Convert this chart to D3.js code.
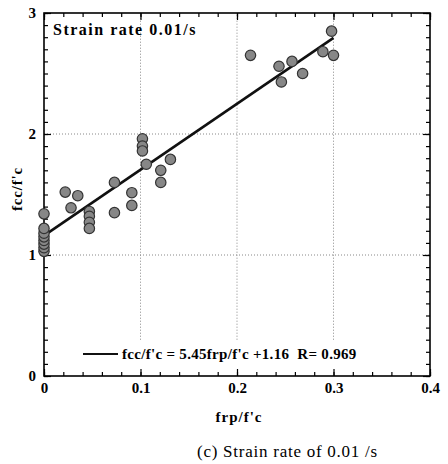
<!DOCTYPE html>
<html>
<head>
<meta charset="utf-8">
<script src="https://cdn.jsdelivr.net/npm/d3@7"></script>
<style>
  body { margin: 0; background: #fff; }
  svg { display: block; }
</style>
</head>
<body>
<div id="chart"></div>
<script>
// values
const frpRatio = [0, 0, 0, 0, 0, 0, 0, 0,
  0.022, 0.028, 0.035,
  0.047, 0.047, 0.047, 0.047,
  0.073, 0.073, 0.091, 0.091,
  0.102, 0.102, 0.102, 0.106,
  0.121, 0.121, 0.131,
  0.214, 0.2435, 0.246, 0.257, 0.268, 0.289, 0.298, 0.300];
const fccRatio = [1.03, 1.06, 1.09, 1.12, 1.15, 1.18, 1.22, 1.34,
  1.52, 1.39, 1.49,
  1.36, 1.32, 1.27, 1.22,
  1.60, 1.35, 1.515, 1.41,
  1.96, 1.90, 1.86, 1.75,
  1.70, 1.60, 1.79,
  2.65, 2.56, 2.43, 2.60, 2.50, 2.68, 2.85, 2.65];
const fitSlope = 5.45, fitIntercept = 1.16, fitR = 0.969;
const fitRange = [0, 0.3];
const xTicks = [0, 0.1, 0.2, 0.3, 0.4];
const yTicks = [0, 1, 2, 3];

const width = 448, height = 464;
const margin = {top: 13, right: 18, bottom: 88, left: 44};

const x = d3.scaleLinear([0, 0.4], [margin.left, width - margin.right]);
const y = d3.scaleLinear([0, 3], [height - margin.bottom, margin.top]);

const svg = d3.select("#chart").append("svg")
    .attr("width", width)
    .attr("height", height)
    .attr("font-family", "'Liberation Serif', serif");

// dotted grid at the inner major ticks
svg.append("g")
    .attr("stroke", "#888")
    .attr("stroke-width", 1)
    .attr("stroke-dasharray", "1,2")
  .call(g => g.selectAll(".vx").data([0.1, 0.2, 0.3]).join("line")
      .attr("x1", d => x(d)).attr("x2", d => x(d))
      .attr("y1", y(0.3)).attr("y2", y(3)))
  .call(g => g.selectAll(".hy").data([1, 2]).join("line")
      .attr("x1", x(0)).attr("x2", x(0.4))
      .attr("y1", d => y(d)).attr("y2", d => y(d)));

// inward ticks on all four sides
const minorX = d3.range(0, 0.4001, 0.02);
const minorY = d3.range(0, 3.001, 0.1);
function ticks(axisFn, scale, major, minor, fmt, transform) {
  const g = svg.append("g").attr("transform", transform);
  g.call(axisFn(scale).tickValues(minor).tickSizeInner(-4).tickSizeOuter(0).tickFormat(""));
  g.append("g").call(axisFn(scale).tickValues(major).tickSizeInner(-7).tickSizeOuter(0)
      .tickPadding(6).tickFormat(fmt));
  g.selectAll(".domain").remove();
  g.selectAll("line").attr("stroke", "#000").attr("stroke-width", 1.2);
  g.selectAll("text").attr("font-size", 15).attr("font-weight", "bold")
      .attr("font-family", "'Liberation Serif', serif").attr("fill", "#000");
  return g;
}
ticks(d3.axisBottom, x, xTicks, minorX, d => d === 0 ? "0" : d3.format(".1f")(d),
    `translate(0,${y(0)})`);
ticks(d3.axisTop, x, xTicks, minorX, "", `translate(0,${y(3)})`);
ticks(d3.axisLeft, y, yTicks, minorY, d3.format("d"), `translate(${x(0)},0)`)
    .selectAll("text").attr("dx", -2);
ticks(d3.axisRight, y, yTicks, minorY, "", `translate(${x(0.4)},0)`);

// frame
svg.append("rect")
    .attr("x", x(0)).attr("y", y(3))
    .attr("width", x(0.4) - x(0)).attr("height", y(0) - y(3))
    .attr("fill", "none").attr("stroke", "#000").attr("stroke-width", 1.6);

// fit line
svg.append("line")
    .attr("x1", x(fitRange[0])).attr("y1", y(fitIntercept + fitSlope * fitRange[0]))
    .attr("x2", x(fitRange[1])).attr("y2", y(fitIntercept + fitSlope * fitRange[1]))
    .attr("stroke", "#111").attr("stroke-width", 2.6);

// data points
svg.append("g")
  .selectAll("circle")
  .data(d3.range(frpRatio.length))
  .join("circle")
    .attr("cx", i => x(frpRatio[i]))
    .attr("cy", i => y(fccRatio[i]))
    .attr("r", 5.2)
    .attr("fill", "#878787")
    .attr("stroke", "#333")
    .attr("stroke-width", 1.2);

// title inside the frame
svg.append("text")
    .attr("x", x(0) + 9).attr("y", y(3) + 22)
    .attr("font-size", 16).attr("font-weight", "bold")
    .attr("letter-spacing", 1.5)
    .text("Strain rate 0.01/s");

// legend
const legY = 354;
svg.append("line")
    .attr("x1", 83).attr("x2", 118).attr("y1", legY).attr("y2", legY)
    .attr("stroke", "#111").attr("stroke-width", 2.2);
svg.append("text")
    .attr("x", 122).attr("y", legY + 5)
    .attr("font-size", 15).attr("font-weight", "bold")
    .attr("letter-spacing", 0.3)
    .attr("xml:space", "preserve")
    .text(`fcc/f'c = ${fitSlope}frp/f'c +${fitIntercept}  R= ${fitR}`);

// axis titles
svg.append("text")
    .attr("x", (x(0) + x(0.4)) / 2 + 2).attr("y", 422)
    .attr("text-anchor", "middle")
    .attr("font-size", 15).attr("font-weight", "bold")
    .attr("letter-spacing", 1)
    .text("frp/f'c");
svg.append("text")
    .attr("transform", `translate(22,189) rotate(-90)`)
    .attr("text-anchor", "middle")
    .attr("font-size", 15).attr("font-weight", "bold")
    .attr("letter-spacing", 0.8)
    .text("fcc/f'c");

// caption
svg.append("text")
    .attr("x", 197).attr("y", 457)
    .attr("font-size", 17)
    .attr("letter-spacing", 0.75)
    .text("(c) Strain rate of 0.01 /s");
</script>
</body>
</html>
